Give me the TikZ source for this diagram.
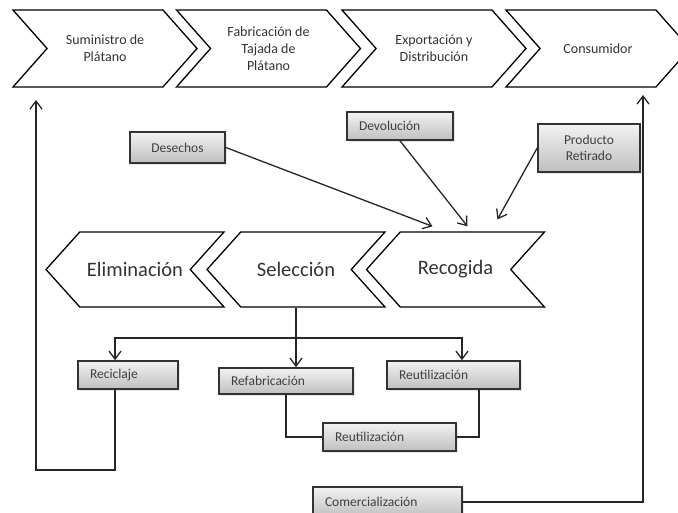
\documentclass[tikz,border=0pt]{standalone}
\usepackage{fontspec}
\setmainfont{Carlito}
\usetikzlibrary{shapes.symbols, arrows.meta, shadows}
\tikzstyle{stage} = [draw, line width=1.3pt, shape=signal, signal from=west, signal to=east,
    signal pointer angle=97, minimum width=184pt, minimum height=77pt, inner sep=0pt,
    align=center, font=\fontsize{14}{17}\selectfont, text=black!80]
\tikzstyle{back} = [draw, line width=1.3pt, shape=signal, signal from=east, signal to=west,
    signal pointer angle=96, minimum width=178pt, minimum height=75pt, inner sep=0pt,
    font=\fontsize{20.5}{24}\selectfont, text=black!80]
\tikzstyle{box} = [draw=black!80, line width=1.6pt, rectangle, top color=gray!10, bottom color=gray!50,
    drop shadow={shadow xshift=2pt, shadow yshift=-2pt, opacity=0.2},
    inner xsep=12pt, inner ysep=0pt, align=left, font=\fontsize{13.5}{16}\selectfont, text=black!75]
\tikzstyle{line} = [line width=1.3pt, draw=black!85]
\tikzstyle{arr} = [line, -{Straight Barb[length=8pt, width=12pt]}]

\begin{document}
\begin{tikzpicture}[x=1pt, y=-1pt]
        \useasboundingbox (0, 0) rectangle (678, 513);
        \clip (0, 0) rectangle (678, 513);

        % cadena directa
        \node[stage, name=supply] at (105, 48.5) {Suministro de\\Plátano};
        \node[stage, name=make] at (268.5, 48.5) {Fabricación de\\Tajada de\\Plátano};
        \node[stage, name=export] at (434, 48.5) {Exportación y\\Distribución};
        \node[stage, name=consumer] at (598, 48.5) {Consumidor};

        % cadena inversa
        \node[back, name=dispose] at (135, 269.5) {Eliminación};
        \node[back, name=select] at (296, 269.5) {Selección};
        \node[back, name=collect] at (455.5, 269.5) {Recogida};

        \node[box, align=center, text width=71pt, minimum height=31pt, name=waste] at (177.5, 147.5) {Desechos};
        \node[box, text width=82pt, minimum height=28pt, name=return] at (400, 126) {Devolución};
        \node[box, align=center, text width=78pt, minimum height=48pt, name=recall] at (589, 148) {Producto\\Retirado};

        \node[box, text width=76pt, minimum height=28pt, name=recycle] at (128, 375) {Reciclaje};
        \node[box, text width=110pt, minimum height=26pt, name=refab] at (286, 381) {Refabricación};
        \node[box, text width=109pt, minimum height=28pt, name=reuse] at (453.5, 375) {Reutilización};
        \node[box, text width=109pt, minimum height=28pt, name=reuse2] at (389.5, 437) {Reutilización};
        \node[box, text width=125pt, minimum height=30pt, name=sell] at (387.5, 502) {Comercialización};

        \coordinate (branch) at (296, 338);
        \coordinate (supply_in) at (36, 100);
        \coordinate (consumer_in) at (643, 95);

        \draw[arr] (waste.east) -- ([xshift=-23pt, yshift=5pt]collect.north);
        \draw[arr] (return.south) -- ([xshift=12pt, yshift=5pt]collect.north);
        \draw[arr] (recall.west) -- ([xshift=42pt, yshift=12pt]collect.north);

        \draw[arr] (select.south) -- (select.south |- refab.north);
        \draw[arr] (branch) -| (recycle.north -| 115, 0);
        \draw[arr] (branch) -| (reuse.north -| 462, 0);

        \draw[line] (refab.south) |- (reuse2.west);
        \draw[line] (reuse.south -| 479, 0) |- (reuse2.east);
        \draw[arr] (recycle.south -| 115, 0) |- (36, 470) -- (supply_in);
        \draw[arr] (sell.east) -| (consumer_in);
    \end{tikzpicture}
\end{document}
